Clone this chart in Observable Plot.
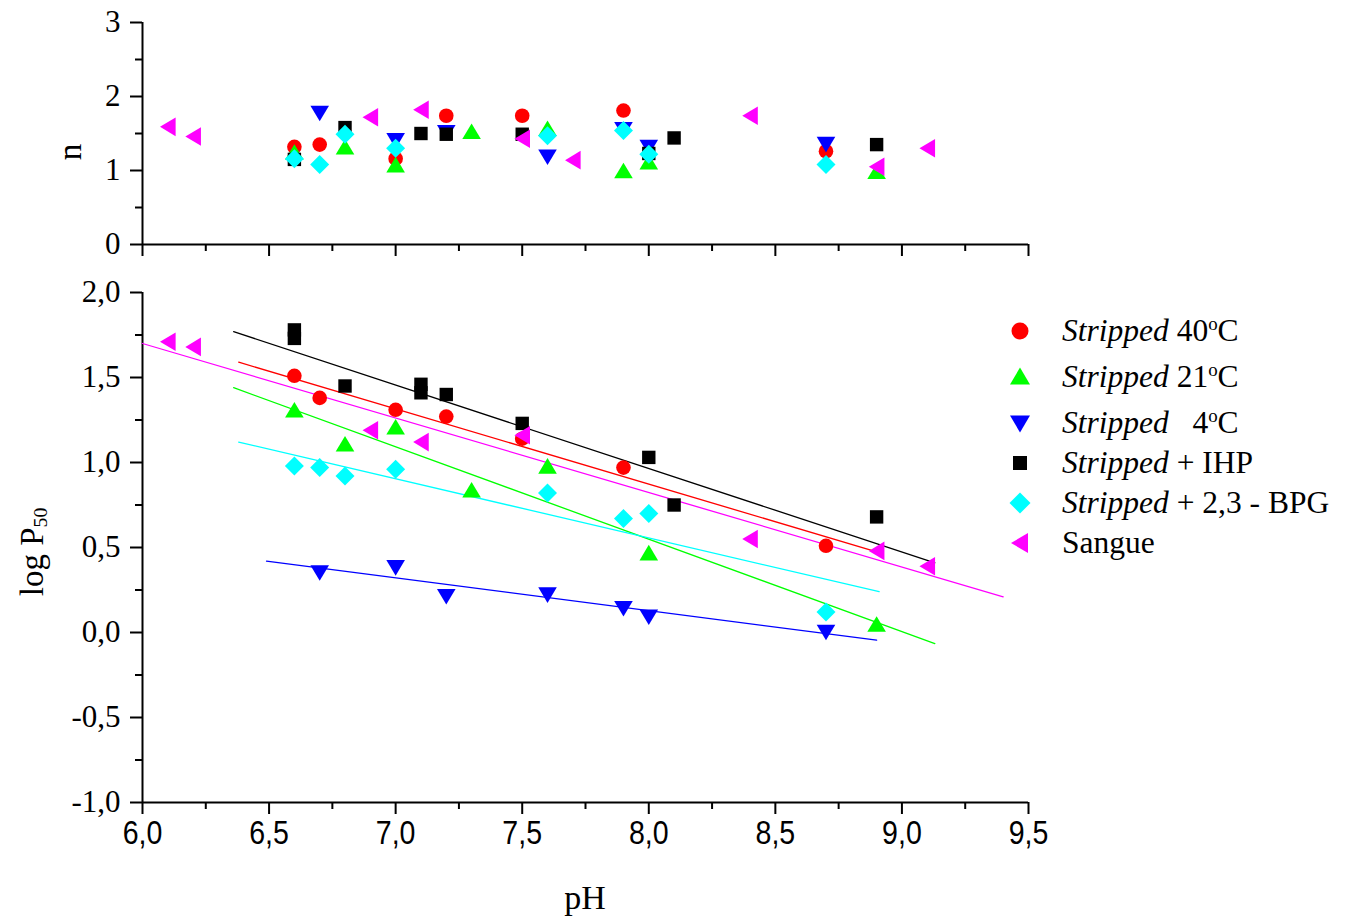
<!DOCTYPE html>
<html>
<head>
<meta charset="utf-8">
<script src="https://cdn.jsdelivr.net/npm/d3@7"></script>
<script src="https://cdn.jsdelivr.net/npm/@observablehq/plot@0.6"></script>
<style>
  body { margin: 0; background: #fff; }
  #wrap { position: relative; width: 1346px; height: 922px; background: #fff; overflow: hidden; font-family: "Liberation Serif", "Times New Roman", serif; color: #000; }
  .abs { position: absolute; white-space: nowrap; }
  .rot { transform: translate(-50%, -50%) rotate(-90deg); }
  .ctr { transform: translate(-50%, -50%); }
  .leg { position: absolute; left: 1005px; height: 40px; display: flex; align-items: center; font-size: 31.5px; white-space: nowrap; }
  .leg svg { width: 30px; height: 30px; margin-right: 27px; overflow: visible; }
  .leg i { font-style: italic; }
  sup { font-size: 60%; vertical-align: 0.6em; line-height: 0; }
  sub { font-size: 60%; vertical-align: -0.25em; line-height: 0; }
</style>
</head>
<body>
<div id="wrap"></div>
<script>
// ---------- data ----------
const seriesNames = ["Stripped 40°C", "Stripped 21°C", "Stripped 4°C", "Stripped + IHP", "Stripped + 2,3 - BPG", "Sangue"];
const seriesColors = ["#ff0000", "#00ff00", "#0000ff", "#000000", "#00ffff", "#ff00ff"];

const xTicks = [6.0, 6.5, 7.0, 7.5, 8.0, 8.5, 9.0, 9.5];
const xMinorTicks = [6.25, 6.75, 7.25, 7.75, 8.25, 8.75, 9.25];
const nTicks = [0, 1, 2, 3];
const nMinorTicks = [0.5, 1.5, 2.5];
const pTicks = [-1.0, -0.5, 0.0, 0.5, 1.0, 1.5, 2.0];
const pMinorTicks = [-0.75, -0.25, 0.25, 0.75, 1.25, 1.75];

// n (Hill coefficient) vs pH  — [pH, n]
const n40  = [[6.6,1.32],[6.7,1.35],[7.0,1.16],[7.2,1.74],[7.5,1.74],[7.9,1.81],[8.7,1.26]];
const n21  = [[6.6,1.25],[6.8,1.32],[7.0,1.08],[7.3,1.53],[7.6,1.57],[7.9,1.00],[8.0,1.12],[8.9,0.99]];
const n4   = [[6.7,1.77],[7.0,1.40],[7.2,1.51],[7.6,1.18],[7.9,1.55],[8.0,1.31],[8.7,1.35]];
const nIHP = [[6.6,1.15],[6.8,1.58],[7.1,1.50],[7.2,1.49],[7.5,1.49],[8.0,1.23],[8.1,1.44],[8.9,1.35]];
const nBPG = [[6.6,1.16],[6.7,1.08],[6.8,1.49],[7.0,1.30],[7.6,1.47],[7.9,1.54],[8.0,1.22],[8.7,1.08]];
const nSangue = [[6.1,1.59],[6.2,1.46],[6.9,1.72],[7.1,1.82],[7.5,1.43],[7.7,1.14],[8.4,1.74],[8.9,1.05],[9.1,1.30]];

// log P50 vs pH — [pH, log P50]
const p40  = [[6.6,1.51],[6.7,1.38],[7.0,1.31],[7.2,1.27],[7.5,1.14],[7.9,0.97],[8.7,0.51]];
const p21  = [[6.6,1.31],[6.8,1.11],[7.0,1.21],[7.3,0.84],[7.6,0.98],[8.0,0.47],[8.9,0.05]];
const p4   = [[6.7,0.35],[7.0,0.38],[7.2,0.21],[7.6,0.22],[7.9,0.14],[8.0,0.09],[8.7,0.00]];
const pIHP = [[6.6,1.78],[6.6,1.73],[6.8,1.45],[7.1,1.46],[7.1,1.41],[7.2,1.40],[7.5,1.23],[8.0,1.03],[8.1,0.75],[8.9,0.68]];
const pBPG = [[6.6,0.98],[6.7,0.97],[6.8,0.92],[7.0,0.96],[7.6,0.82],[7.9,0.67],[8.0,0.70],[8.7,0.12]];
const pSangue = [[6.1,1.71],[6.2,1.68],[6.9,1.19],[7.1,1.12],[7.5,1.16],[8.4,0.55],[8.9,0.48],[9.1,0.39]];

// linear fit lines (end points as drawn in the reference)
const fit40  = [[6.38,1.59],[8.91,0.47]];
const fit21  = [[6.36,1.44],[9.13,-0.065]];
const fit4   = [[6.49,0.42],[8.90,-0.045]];
const fitIHP = [[6.36,1.77],[9.13,0.41]];
const fitBPG = [[6.38,1.12],[8.91,0.24]];
const fitSangue = [[6.0,1.70],[9.40,0.21]];

// ---------- symbols ----------
function poly(pts) {
  return { draw(ctx, size) {
    const s = Math.sqrt(size / Math.PI) / 9;
    ctx.moveTo(pts[0][0] * s, pts[0][1] * s);
    for (let i = 1; i < pts.length; i++) ctx.lineTo(pts[i][0] * s, pts[i][1] * s);
    ctx.closePath();
  }};
}
const symCircle = { draw(ctx, size) { const r = Math.sqrt(size / Math.PI) / 9 * 7.3; ctx.moveTo(r, 0); ctx.arc(0, 0, r, 0, 2 * Math.PI); } };
const symUp = poly([[0,-7.8],[9.3,7.8],[-9.3,7.8]]);
const symDown = poly([[0,7.8],[9.3,-7.8],[-9.3,-7.8]]);
const symSquare = poly([[-6.7,-6.7],[6.7,-6.7],[6.7,6.7],[-6.7,6.7]]);
const symDiamond = poly([[0,-9.5],[9.5,0],[0,9.5],[-9.5,0]]);
const symLeft = poly([[-7.8,0],[7.8,-9.3],[7.8,9.3]]);
const symbols = [symCircle, symUp, symDown, symSquare, symDiamond, symLeft];

const nSets = [n40, n21, n4, nIHP, nBPG, nSangue];
const pSets = [p40, p21, p4, pIHP, pBPG, pSangue];
const fitSets = [fit40, fit21, fit4, fitIHP, fitBPG, fitSangue];

const fmt = d => d.toFixed(1).replace(".", ",");
const serif = "Liberation Serif";
const sans = "Liberation Sans";

function dots(sets) {
  return sets.map((data, i) => Plot.dot(data, {
    x: d => d[0], y: d => d[1], symbol: symbols[i], r: 9, fill: seriesColors[i], stroke: "none"
  }));
}

const W = 1346, L = 142, R = 318;

// ---------- top panel: n ----------
const topPlot = Plot.plot({
  width: W, height: 270,
  marginLeft: L, marginRight: R, marginTop: 22, marginBottom: 26,
  style: { background: "transparent", overflow: "visible" },
  x: { domain: [6, 9.5], label: null },
  y: { domain: [0, 3], label: null },
  marks: [
    Plot.ruleX([6], { strokeWidth: 2 }),
    Plot.ruleY([0], { strokeWidth: 2 }),
    Plot.axisY({ ticks: nTicks, tickSize: 12, tickPadding: 10, tickFormat: d => String(d), fontSize: 31, fontFamily: serif, strokeWidth: 2, label: null }),
    Plot.axisY({ ticks: nMinorTicks, tickSize: 7, tickFormat: () => "", strokeWidth: 2, label: null }),
    Plot.axisX({ ticks: xTicks, tickSize: 12, tickFormat: () => "", strokeWidth: 2, label: null }),
    Plot.axisX({ ticks: xMinorTicks, tickSize: 7, tickFormat: () => "", strokeWidth: 2, label: null }),
    ...dots(nSets)
  ]
});

// ---------- bottom panel: log P50 ----------
const bottomPlot = Plot.plot({
  width: W, height: 652,
  marginLeft: L, marginRight: R, marginTop: 22, marginBottom: 120,
  style: { background: "transparent", overflow: "visible" },
  x: { domain: [6, 9.5], label: null },
  y: { domain: [-1, 2], label: null },
  marks: [
    Plot.ruleX([6], { strokeWidth: 2 }),
    Plot.ruleY([-1], { strokeWidth: 2 }),
    Plot.axisY({ ticks: pTicks, tickSize: 12, tickPadding: 10, tickFormat: fmt, fontSize: 31, fontFamily: serif, strokeWidth: 2, label: null }),
    Plot.axisY({ ticks: pMinorTicks, tickSize: 7, tickFormat: () => "", strokeWidth: 2, label: null }),
    Plot.axisX({ ticks: xTicks, tickSize: 12, tickPadding: 5, tickFormat: fmt, fontSize: 34, fontFamily: sans, strokeWidth: 2, label: null, ariaLabel: "x-ticklabels" }),
    Plot.axisX({ ticks: xMinorTicks, tickSize: 7, tickFormat: () => "", strokeWidth: 2, label: null }),
    ...fitSets.map((f, i) => Plot.line(f, { x: d => d[0], y: d => d[1], stroke: seriesColors[i], strokeWidth: 1.3 })),
    ...dots(pSets)
  ]
});

// condense the x tick labels (reference uses a narrow sans face)
bottomPlot.querySelectorAll("text").forEach(t => {
  const fam = t.getAttribute("font-family") || (t.parentNode && t.parentNode.getAttribute && t.parentNode.getAttribute("font-family"));
  if (fam === sans) {
    const tr = t.getAttribute("transform");
    if (tr) t.setAttribute("transform", tr + " scale(0.84,1)");
  }
});

const wrap = document.getElementById("wrap");
topPlot.style.position = "absolute"; topPlot.style.left = "0px"; topPlot.style.top = "0px";
bottomPlot.style.position = "absolute"; bottomPlot.style.left = "0px"; bottomPlot.style.top = "270px";
wrap.appendChild(topPlot);
wrap.appendChild(bottomPlot);

// axis titles
function addText(html, x, y, cls, size) {
  const d = document.createElement("div");
  d.className = "abs " + cls;
  d.style.left = x + "px"; d.style.top = y + "px"; d.style.fontSize = size + "px";
  d.innerHTML = html;
  wrap.appendChild(d);
}
addText("n", 70, 152, "rot", 33);
addText("log P<sub>50</sub>", 32, 552, "rot", 33);
addText("pH", 585, 898, "ctr", 34);

// legend
const legendLabels = [
  "<i>Stripped</i>&nbsp;40<sup>o</sup>C",
  "<i>Stripped</i>&nbsp;21<sup>o</sup>C",
  "<i>Stripped</i>&nbsp;&nbsp;&nbsp;4<sup>o</sup>C",
  "<i>Stripped</i>&nbsp;+ IHP",
  "<i>Stripped</i>&nbsp;+ 2,3 - BPG",
  "Sangue"
];
const legendY = [331, 377, 423, 463, 503, 543];
const legendPaths = [
  '<circle cx="15" cy="15" r="8.5"/>',
  '<path d="M15,5.5 L25,22.5 L5,22.5Z"/>',
  '<path d="M15,24.5 L25,7.5 L5,7.5Z"/>',
  '<rect x="8" y="8" width="14" height="14"/>',
  '<path d="M15,4.5 L25.5,15 L15,25.5 L4.5,15Z"/>',
  '<path d="M6,15 L23,5 L23,25Z"/>'
];
legendLabels.forEach((lab, i) => {
  const row = document.createElement("div");
  row.className = "leg";
  row.style.top = (legendY[i] - 20) + "px";
  row.innerHTML = `<svg viewBox="0 0 30 30" fill="${seriesColors[i]}">${legendPaths[i]}</svg><span>${lab}</span>`;
  wrap.appendChild(row);
});
</script>
</body>
</html>
